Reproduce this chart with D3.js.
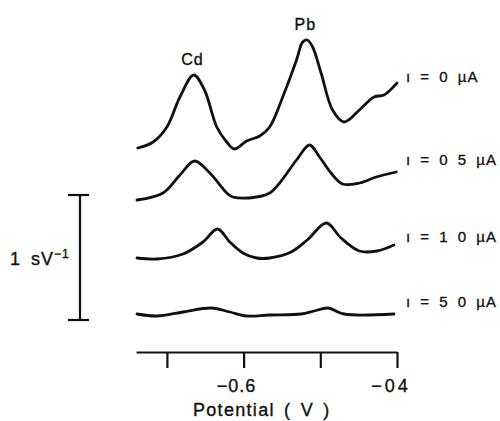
<!DOCTYPE html>
<html>
<head>
<meta charset="utf-8">
<script src="https://cdn.jsdelivr.net/npm/d3@7"></script>
<style>
  html, body { margin: 0; padding: 0; background: #fff; }
  svg { display: block; }
  text { font-family: "Liberation Sans", Arial, Helvetica, sans-serif; fill: #111; stroke: #111; stroke-width: 0.35px; }
</style>
</head>
<body>
<svg id="chart" width="500" height="421"></svg>
<script>
// ---- Data (potential in V, signal in sV^-1, stacked as drawn) ----
const potential0 = [-0.738, -0.718, -0.700, -0.683, -0.665, -0.651, -0.635, -0.622, -0.612, -0.596, -0.579, -0.566, -0.547, -0.531, -0.523, -0.517, -0.510, -0.499, -0.484, -0.469, -0.449, -0.430, -0.417, -0.400];
const signal0    = [1.632, 1.680, 1.800, 2.040, 2.216, 2.096, 1.800, 1.680, 1.624, 1.688, 1.728, 1.800, 2.072, 2.336, 2.480, 2.496, 2.440, 2.232, 1.936, 1.840, 1.936, 2.040, 2.056, 2.152];

const potential05 = [-0.739, -0.705, -0.683, -0.664, -0.644, -0.622, -0.614, -0.583, -0.566, -0.553, -0.531, -0.514, -0.501, -0.486, -0.471, -0.449, -0.427, -0.401];
const signal05    = [1.216, 1.272, 1.416, 1.528, 1.432, 1.272, 1.240, 1.240, 1.272, 1.352, 1.536, 1.656, 1.560, 1.432, 1.344, 1.352, 1.400, 1.440];

const potential10 = [-0.739, -0.713, -0.679, -0.653, -0.634, -0.618, -0.601, -0.583, -0.566, -0.538, -0.517, -0.492, -0.473, -0.449, -0.426, -0.404];
const signal10    = [0.752, 0.744, 0.784, 0.880, 0.984, 0.880, 0.792, 0.752, 0.752, 0.800, 0.896, 1.032, 0.912, 0.808, 0.808, 0.856];

const potential50 = [-0.739, -0.713, -0.679, -0.642, -0.618, -0.596, -0.566, -0.525, -0.508, -0.490, -0.469, -0.404];
const signal50    = [0.304, 0.288, 0.320, 0.352, 0.320, 0.288, 0.296, 0.304, 0.328, 0.352, 0.304, 0.304];

const seriesLabels = ["\u0131 = 0 \u00b5A", "\u0131 = 0 5 \u00b5A", "\u0131 = 1 0 \u00b5A", "\u0131 = 5 0 \u00b5A"];
const peakLabels = ["Cd", "Pb"];
const peakPotentials = [-0.664, -0.517];
const peakSignals = [2.216, 2.496];

const tickValues = [-0.7, -0.6, -0.5, -0.4];
const tickLabels = ["", "\u22120.6", "", "\u221204"];
const xTitle = "Potential ( V )";
const scaleBarLabel = "1 sV";
const scaleBarExp = "\u22121";
const scaleBarRange = [0.256, 1.256];   // 1 sV^-1
const xDomain = [-0.7403, -0.4];

// ---- Layout ----
const svg = d3.select("#chart");
const x = d3.scaleLinear().domain(xDomain).range([136, 397]);
const y = d3.scaleLinear().domain([0, 1]).range([352, 227]);

const series = [
  {p: potential0, s: signal0},
  {p: potential05, s: signal05},
  {p: potential10, s: signal10},
  {p: potential50, s: signal50}
];

const line = d3.line()
  .x(d => x(d[0]))
  .y(d => y(d[1]))
  .curve(d3.curveCatmullRom.alpha(0.5));

series.forEach((sr) => {
  const pts = sr.p.map((v, j) => [v, sr.s[j]]);
  svg.append("path")
    .attr("d", line(pts))
    .attr("fill", "none")
    .attr("stroke", "#111")
    .attr("stroke-width", 2.8)
    .attr("stroke-linejoin", "round")
    .attr("stroke-linecap", "round");
});

// series labels (to the right of each trace end)
const labelDy = [-1, -7, -3, -7];
series.forEach((sr, i) => {
  const last = sr.s[sr.s.length - 1];
  svg.append("text")
    .attr("x", 406)
    .attr("y", y(last) + labelDy[i])
    .attr("font-size", 15)
    .attr("letter-spacing", 1)
    .attr("word-spacing", 4)
    .text(seriesLabels[i]);
});

// peak labels
peakLabels.forEach((t, i) => {
  svg.append("text")
    .attr("x", x(peakPotentials[i]) - 2)
    .attr("y", y(peakSignals[i]) - 10)
    .attr("font-size", 16)
    .attr("text-anchor", "middle")
    .attr("letter-spacing", 1)
    .text(t);
});

// x axis
const axisG = svg.append("g").attr("transform", "translate(0,352)");
axisG.call(d3.axisBottom(x).tickValues(tickValues).tickSize(16).tickSizeOuter(0).tickFormat(""));
axisG.select(".domain").attr("stroke", "#111").attr("stroke-width", 2.2);
axisG.selectAll(".tick line").attr("stroke", "#111").attr("stroke-width", 2.2);

const tickLabelOffset = [0, -7, 0, -6];
const tickLabelSpacing = [0, 1, 0, 3];
tickValues.forEach((v, i) => {
  if (!tickLabels[i]) return;
  svg.append("text")
    .attr("x", x(v) + tickLabelOffset[i])
    .attr("y", 392)
    .attr("font-size", 18)
    .attr("text-anchor", "middle")
    .attr("letter-spacing", tickLabelSpacing[i])
    .text(tickLabels[i]);
});

svg.append("text")
  .attr("x", 193)
  .attr("y", 416)
  .attr("font-size", 18)
  .attr("letter-spacing", 1.3)
  .attr("word-spacing", 3)
  .text(xTitle);

// scale bar
const sb = svg.append("g").attr("stroke", "#111").attr("stroke-width", 2.2);
sb.append("line").attr("x1", 80).attr("x2", 80).attr("y1", y(scaleBarRange[1])).attr("y2", y(scaleBarRange[0]));
sb.append("line").attr("x1", 68).attr("x2", 89).attr("y1", y(scaleBarRange[1])).attr("y2", y(scaleBarRange[1]));
sb.append("line").attr("x1", 68).attr("x2", 89).attr("y1", y(scaleBarRange[0])).attr("y2", y(scaleBarRange[0]));

const sbt = svg.append("text")
  .attr("x", 10)
  .attr("y", 265)
  .attr("font-size", 18);
sbt.append("tspan").attr("letter-spacing", 1).attr("word-spacing", 4).text(scaleBarLabel);
sbt.append("tspan").attr("x", 54).attr("dy", -7).attr("font-size", 12).attr("letter-spacing", 1).text(scaleBarExp);
</script>
</body>
</html>
